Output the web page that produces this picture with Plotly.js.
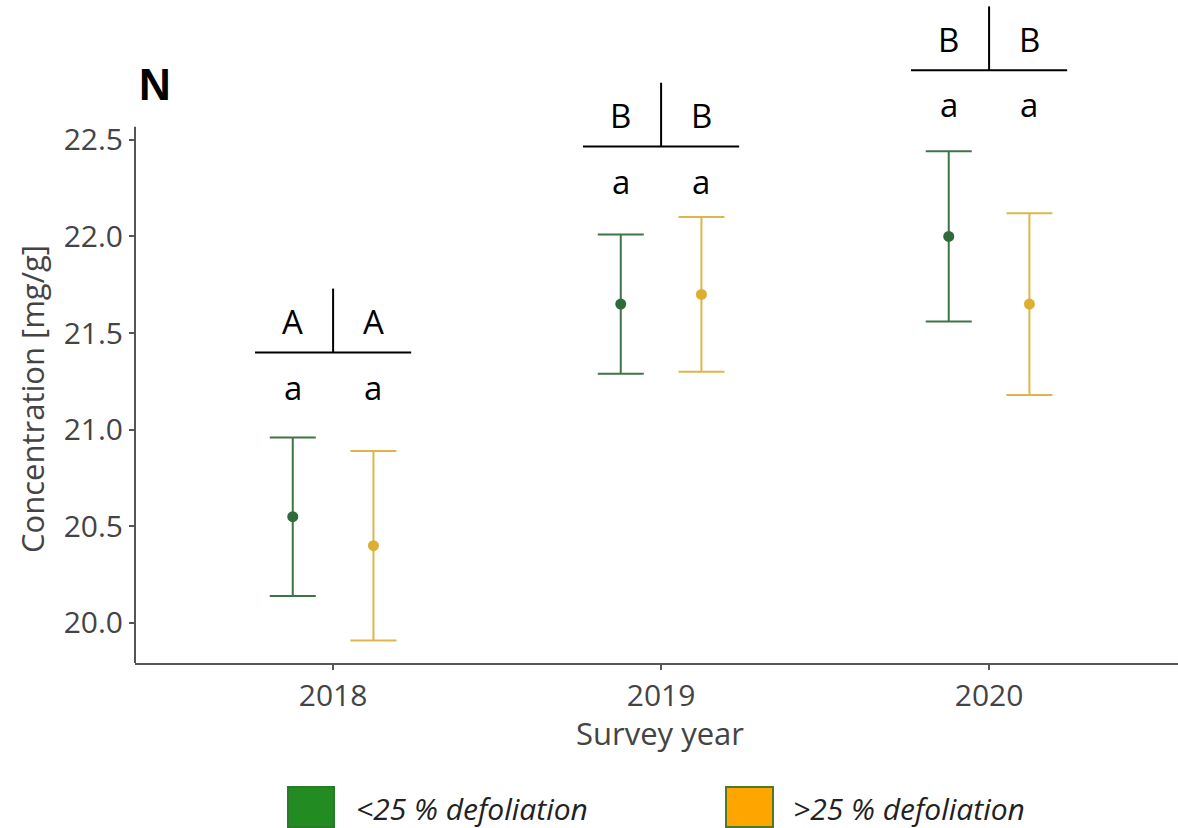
<!DOCTYPE html>
<html>
<head>
<meta charset="utf-8">
<script src="https://cdn.plot.ly/plotly-3.0.1.min.js"></script>
<style>html,body{margin:0;padding:0;background:#fff;}#chart{width:1178px;height:828px;}</style>
</head>
<body>
<div id="chart"></div>
<script>
// ---- data ----
var years = [2018, 2019, 2020];
var yearLabels = ["2018", "2019", "2020"];
var seriesNames = ["<25 % defoliation", ">25 % defoliation"];
var lowMean = [20.55, 21.65, 22.00];
var lowUpper = [20.96, 22.01, 22.44];
var lowLower = [20.14, 21.29, 21.56];
var highMean = [20.40, 21.70, 21.65];
var highUpper = [20.89, 22.10, 22.12];
var highLower = [19.91, 21.30, 21.18];
var yearLettersLow = ["A", "B", "B"];
var yearLettersHigh = ["A", "B", "B"];
var groupLettersLow = ["a", "a", "a"];
var groupLettersHigh = ["a", "a", "a"];
var bracketLevel = [21.40, 22.465, 22.86];
var yTicks = [20.0, 20.5, 21.0, 21.5, 22.0, 22.5];
var yTickLabels = ["20.0", "20.5", "21.0", "21.5", "22.0", "22.5"];

// ---- layout constants ----
var W = 1178, H = 828;
var ML = 135, MB = 165;
var plotW = W - ML, plotH = H - MB;
var yRange = [19.793, 23.223];
var xRange = [2017.396, 2020.576];
var yAxisTop = 22.567;
var dodge = 0.123;
var bracketHalf = 0.238;
var stemHeight = 0.33;
var upperOff = 0.16, lowerOff = 0.18;
var greenLine = "#3f7447", greenPt = "#2f6b3a";
var orangeLine = "#dcb64c", orangePt = "#dcae32";
var axisColor = "#555555", textGray = "#444444";

function px2x(p) { return (p - ML) / plotW; }
function py2y(p) { return (plotH - p) / plotH; }

function shifted(d) { return years.map(function (y) { return y + d; }); }
function diff(a, b) { return a.map(function (v, i) { return v - b[i]; }); }

var traces = [
  {
    type: "scatter", mode: "markers", name: seriesNames[0], showlegend: false,
    x: shifted(-dodge), y: lowMean,
    marker: { color: greenPt, size: 11 },
    error_y: { type: "data", symmetric: false, array: diff(lowUpper, lowMean), arrayminus: diff(lowMean, lowLower),
      color: greenLine, thickness: 2, width: 23 }
  },
  {
    type: "scatter", mode: "markers", name: seriesNames[1], showlegend: false,
    x: shifted(dodge), y: highMean,
    marker: { color: orangePt, size: 11 },
    error_y: { type: "data", symmetric: false, array: diff(highUpper, highMean), arrayminus: diff(highMean, highLower),
      color: orangeLine, thickness: 2, width: 23 }
  }
];

var shapes = [];
var annotations = [];
var letterFont = { family: "Open Sans", size: 33, color: "#000" };

years.forEach(function (yr, i) {
  var lv = bracketLevel[i];
  shapes.push({ type: "line", xref: "x", yref: "y", x0: yr - bracketHalf, x1: yr + bracketHalf, y0: lv, y1: lv,
    line: { color: "#000", width: 2 } });
  shapes.push({ type: "line", xref: "x", yref: "y", x0: yr, x1: yr, y0: lv, y1: lv + stemHeight,
    line: { color: "#000", width: 2 } });
  annotations.push({ xref: "x", yref: "y", x: yr - dodge, y: lv + upperOff, text: yearLettersLow[i], showarrow: false,
    font: letterFont, xanchor: "center", yanchor: "middle" });
  annotations.push({ xref: "x", yref: "y", x: yr + dodge, y: lv + upperOff, text: yearLettersHigh[i], showarrow: false,
    font: letterFont, xanchor: "center", yanchor: "middle" });
  annotations.push({ xref: "x", yref: "y", x: yr - dodge, y: lv - lowerOff, text: groupLettersLow[i], showarrow: false,
    font: letterFont, xanchor: "center", yanchor: "middle" });
  annotations.push({ xref: "x", yref: "y", x: yr + dodge, y: lv - lowerOff, text: groupLettersHigh[i], showarrow: false,
    font: letterFont, xanchor: "center", yanchor: "middle" });
});

// y axis line (only spans the panel, not the letter area)
shapes.push({ type: "line", xref: "paper", yref: "y", x0: 0, x1: 0, y0: yRange[0], y1: yAxisTop,
  line: { color: axisColor, width: 2 } });

// axis titles
annotations.push({ xref: "paper", yref: "paper", x: px2x(32), y: py2y(399), text: "Concentration [mg/g]",
  textangle: -90, showarrow: false, font: { family: "Open Sans", size: 31, color: textGray },
  xanchor: "center", yanchor: "middle" });
annotations.push({ xref: "paper", yref: "paper", x: px2x(660), y: py2y(733), text: "Survey year",
  showarrow: false, font: { family: "Open Sans", size: 31, color: textGray }, xanchor: "center", yanchor: "middle" });

// legend
var legendItems = [
  { x0: 288, x1: 334, fill: "#228B22", line: "#2a7a2a", text: seriesNames[0], tx: 354 },
  { x0: 726, x1: 773, fill: "#FFA500", line: "#4a7a2a", text: seriesNames[1], tx: 791 }
];
legendItems.forEach(function (it) {
  shapes.push({ type: "rect", xref: "paper", yref: "paper", x0: px2x(it.x0), x1: px2x(it.x1), y0: py2y(787), y1: py2y(827),
    fillcolor: it.fill, line: { color: it.line, width: 2 } });
  annotations.push({ xref: "paper", yref: "paper", x: px2x(it.tx), y: py2y(808), text: "<i>" + it.text.replace("<", "&lt;").replace(">", "&gt;") + "</i>",
    showarrow: false, font: { family: "Open Sans", size: 30, color: "#222" }, xanchor: "left", yanchor: "middle" });
});

var layout = {
  width: W, height: H,
  margin: { l: ML, r: 0, t: 0, b: MB, pad: 0 },
  paper_bgcolor: "#fff", plot_bgcolor: "#fff",
  showlegend: false,
  title: { text: "<b>N</b>", x: 155 / W, y: 1 - 85 / H, xanchor: "center", yanchor: "middle", xref: "container", yref: "container",
    font: { family: "Liberation Sans", size: 44, color: "#000" } },
  xaxis: {
    range: xRange, tickvals: years, ticktext: yearLabels, showgrid: false, zeroline: false,
    showline: true, linecolor: axisColor, linewidth: 2, ticks: "outside", ticklen: 5, tickwidth: 2, tickcolor: axisColor,
    tickfont: { family: "Open Sans", size: 30, color: textGray }
  },
  yaxis: {
    range: yRange, tickvals: yTicks, ticktext: yTickLabels, showgrid: false, zeroline: false,
    showline: false, ticks: "outside", ticklen: 5, tickwidth: 2, tickcolor: axisColor,
    tickfont: { family: "Open Sans", size: 30, color: textGray }
  },
  shapes: shapes,
  annotations: annotations
};

Plotly.newPlot("chart", traces, layout, { displayModeBar: false, staticPlot: true });
</script>
</body>
</html>
